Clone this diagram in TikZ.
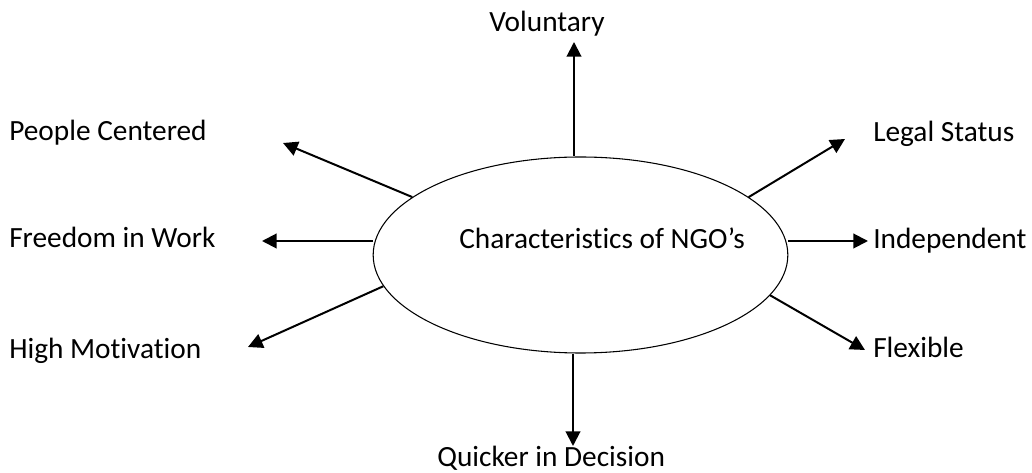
\documentclass[tikz,border=0pt]{standalone}
\usepackage{fontspec}
\setmainfont[Ligatures=NoCommon]{Carlito}
\usetikzlibrary{
  arrows.meta,
  shapes.geometric
}
\tikzset{
  feature/.style={
    anchor=base west,
    inner sep=0pt,
    font=\fontsize{22}{26}\selectfont
  },
  spoke/.style={
    draw,
    line width=1.5pt,
    -{Triangle[length=11pt,width=11pt]}
  },
  hub/.style={
    draw,
    ellipse,
    line width=0.8pt,
    minimum width=311pt,
    minimum height=147pt,
    inner sep=0pt
  }
}

\begin{document}
\begin{tikzpicture}[x=0.75pt,y=-0.75pt]
  \useasboundingbox (0,0) rectangle (1032,473);
  \node[hub] (ngo) at (580.5,255) {};
  \node[feature] (ngolabel) at (459,249) {Characteristics of NGO’s};

  \node[feature] (voluntary)   at (489,32)  {Voluntary};
  \node[feature] (people)      at (9,141)   {People Centered};
  \node[feature] (legal)       at (873,142) {Legal Status};
  \node[feature] (freedom)     at (9,248)   {Freedom in Work};
  \node[feature] (independent) at (873,249) {Independent};
  \node[feature] (motivation)  at (9,359)   {High Motivation};
  \node[feature] (flexible)    at (873,358) {Flexible};
  \node[feature] (quicker)     at (437,467) {Quicker in Decision};

  \coordinate (voluntarytip)   at (574,42);
  \coordinate (peopletip)      at (283,143);
  \coordinate (legaltip)       at (845,139);
  \coordinate (freedomtip)     at (262,241);
  \coordinate (independenttip) at (868,241);
  \coordinate (motivationtip)  at (248,347);
  \coordinate (flexibletip)    at (865,350);
  \coordinate (quickertip)     at (573,446);

  % straight spokes
  \path[spoke] (voluntarytip |- ngo.north) -- (voluntarytip);
  \path[spoke] (quickertip |- ngo.south) -- (quickertip);
  \path[spoke] (freedomtip -| ngo.west) -- (freedomtip);
  \path[spoke] (independenttip -| ngo.east) -- (independenttip);

  % slanted spokes
  \foreach \ang/\tip in {161.3/people, 19.9/legal, 189.6/motivation, -12.3/flexible}
    \path[spoke] (ngo.\ang) -- (\tip tip);
\end{tikzpicture}
\end{document}
